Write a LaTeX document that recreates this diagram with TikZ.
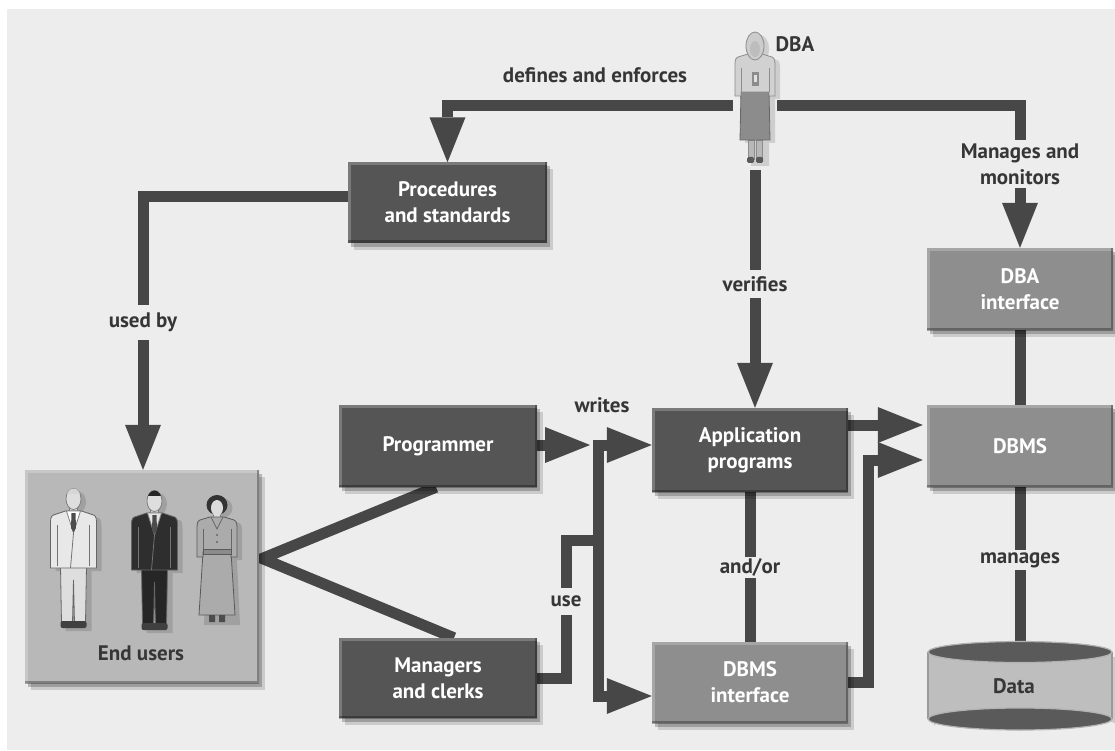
\documentclass[tikz,border=0pt]{standalone}
\usepackage{fontspec}
\setmainfont{PT Sans}
\usetikzlibrary{arrows.meta,shadows}

\definecolor{bgc}{HTML}{EDEDED}
\definecolor{linec}{HTML}{474747}
\definecolor{darkc}{HTML}{555555}
\definecolor{midc}{HTML}{8E8E8E}
\definecolor{lightc}{HTML}{B8B8B8}
\definecolor{labelc}{HTML}{363636}
\definecolor{cylbody}{HTML}{BEBEBE}
\definecolor{cylend}{HTML}{5A5A5A}

\pgfdeclarelayer{back}
\pgfdeclarelayer{wires}
\pgfsetlayers{back,wires,main}

\newcommand\lblfont{\fontsize{21}{26}\selectfont\bfseries}

% man in a suit: x, top y, jacket, trousers, hair, shirt
\newcommand\suitman[6]{%
\begin{scope}[shift={(#1,#2)}, line width=0.8pt]
  \fill[black,opacity=.13,shift={(5,3)}] (0,11) ellipse [x radius=7.5, y radius=10.5]
    (-8,23) -- (-20,27) .. controls (-23,28) and (-23,32) .. (-23,36) -- (-23,80) -- (-13,80) -- (-13,140) -- (13,140) -- (13,80) -- (23,80) -- (23,36) .. controls (23,32) and (23,28) .. (20,27) -- (8,23) -- cycle;
  \filldraw[fill=#4, draw=black!60] (-13,78) -- (13,78) -- (12,135) -- (1,135) -- (0,92) -- (-1,135) -- (-12,135) -- cycle;
  \fill[black!75,rounded corners=2pt] (-13,133) rectangle (13,140);
  \filldraw[fill=black!15, draw=black!50] (-4,16) rectangle (4,25);
  \filldraw[fill=black!13, draw=black!50] (0,11) ellipse [x radius=7.5, y radius=10.5];
  \begin{scope}
    \clip (-9,-2) rectangle (9,5);
    \fill[#5] (0,11) ellipse [x radius=7.5, y radius=10.5];
  \end{scope}
  \filldraw[fill=#3, draw=black!60] (-8,23) -- (-20,27) .. controls (-23,28) and (-23,32) .. (-23,36) -- (-23,80) -- (23,80) -- (23,36) .. controls (23,32) and (23,28) .. (20,27) -- (8,23) -- cycle;
  \draw[black!55] (-16,37) -- (-16,78) (16,37) -- (16,78);
  \filldraw[fill=#6, draw=black!50] (-7,23) -- (7,23) -- (0,45) -- cycle;
  \fill[black!70] (-2,25) -- (2,25) -- (2.5,40) -- (0,44) -- (-2.5,40) -- cycle;
  \draw[black!55] (0,45) -- (-3,80);
\end{scope}}

% woman in a long dress: x, top y, dress colour
\newcommand\dresslady[3]{%
\begin{scope}[shift={(#1,#2)}, line width=0.8pt]
  \fill[black,opacity=.13,shift={(5,3)}] (0,10) ellipse [x radius=10.5, y radius=10]
    (-7,22) -- (-17,25) .. controls (-20,26) and (-20,30) .. (-20,34) -- (-20,62) -- (-15,62) -- (-18,127) -- (18,127) -- (15,62) -- (20,62) -- (20,34) .. controls (20,30) and (20,26) .. (17,25) -- (7,22) -- cycle;
  \fill[black!80] (0,10) ellipse [x radius=10.5, y radius=10];
  \filldraw[fill=#3, draw=black!65] (-14,57) -- (14,57) -- (18,120) -- (-18,120) -- cycle;
  \fill[black!70] (-8,120) rectangle (-2,127) (2,120) rectangle (8,127);
  \filldraw[fill=black!15, draw=black!50] (-3.5,16) rectangle (3.5,24);
  \filldraw[fill=#3, draw=black!65] (-7,22) -- (-17,25) .. controls (-20,26) and (-20,30) .. (-20,34) -- (-20,62) -- (-14,62) -- (-14,57) -- (14,57) -- (14,62) -- (20,62) -- (20,34) .. controls (20,30) and (20,26) .. (17,25) -- (7,22) -- cycle;
  \filldraw[fill=black!45, draw=black!65] (-14,54) rectangle (14,59);
  \draw[black!60] (-14,34) -- (-14,54) (14,34) -- (14,54);
  \draw[black!60] (-6,22) -- (0,34) -- (6,22);
  \fill[black!60] (0,40) circle (1.2) (0,47) circle (1.2);
  \fill[black!14] (0,13) ellipse [x radius=6, y radius=8];
\end{scope}}

% administrator figure: x, top y
\newcommand\adminlady[2]{%
\begin{scope}[shift={(#1,#2)}, line width=0.8pt]
  \fill[black,opacity=.13,shift={(5,3)}] (0,14) ellipse [x radius=9, y radius=14]
    (-7,22) -- (-17,25) .. controls (-20,26) and (-20,30) .. (-20,34) -- (-20,64) -- (-15,64) -- (-15,108) -- (-9,108) -- (-9,131) -- (9,131) -- (9,108) -- (15,108) -- (15,64) -- (20,64) -- (20,34) .. controls (20,30) and (20,26) .. (17,25) -- (7,22) -- cycle;
  \filldraw[fill=black!28, draw=black!45] (-7,108) rectangle (-1,127) (1,108) rectangle (7,127);
  \fill[black!65,rounded corners=1.5pt] (-8,125) rectangle (-1,131) (1,125) rectangle (8,131);
  \filldraw[fill=black!45, draw=black!60] (-14,58) -- (14,58) -- (15,108) -- (-15,108) -- cycle;
  \filldraw[fill=black!18, draw=black!45] (-7,22) -- (-17,25) .. controls (-20,26) and (-20,30) .. (-20,34) -- (-20,64) -- (-14,64) -- (-14,60) -- (14,60) -- (14,64) -- (20,64) -- (20,34) .. controls (20,30) and (20,26) .. (17,25) -- (7,22) -- cycle;
  \draw[black!45] (-14,36) -- (-14,60) (14,36) -- (14,60);
  \filldraw[fill=black!20, draw=black!45] (0,14) ellipse [x radius=9, y radius=14];
  \fill[black!26] (0,17) ellipse [x radius=5, y radius=8];
  \fill[black!45] (-3,40) rectangle (3.5,54);
  \fill[black!12] (-1,43) rectangle (1.5,50);
\end{scope}}

\tikzset{
  >={Triangle[width=36pt,length=45pt,line width=0pt]},
  conn/.style={draw=linec, line width=11pt, line join=miter},
  bevel/.style={path picture={
    \draw[white,opacity=.22,line width=5pt] (path picture bounding box.south west) -- (path picture bounding box.north west) -- (path picture bounding box.north east);
    \draw[black,opacity=.30,line width=5pt] (path picture bounding box.north east) -- (path picture bounding box.south east) -- (path picture bounding box.south west);}},
  box/.style={rectangle, inner sep=0pt, align=center, font=\lblfont, text=white, bevel,
    drop shadow={shadow xshift=3pt, shadow yshift=-4pt, opacity=.22, fill=black},
    drop shadow={shadow xshift=6pt, shadow yshift=-7pt, opacity=.14, fill=black}},
  darkbox/.style={box, fill=darkc},
  midbox/.style={box, fill=midc},
  lightbox/.style={box, fill=lightc},
  txt/.style={font=\lblfont, text=labelc, inner sep=0pt, align=center},
  gap/.style={txt, minimum width=20pt},
}

\begin{document}
\begin{tikzpicture}[x=1pt,y=-1pt]
\useasboundingbox (0,0) rectangle (1115,751);
\begin{pgfonlayer}{back}
  \fill[white] (0,0) rectangle (1115,751);
  \fill[bgc] (7,9) rectangle (1115,750);
\end{pgfonlayer}

% boxes
\node[darkbox, minimum width=199, minimum height=80] (proc) at (447.5,202.5) {Procedures\\and standards};
\node[darkbox, minimum width=198, minimum height=82] (prog) at (438,446) {Programmer};
\node[darkbox, minimum width=198, minimum height=80] (mgr) at (438,678) {Managers\\and clerks};
\node[darkbox, minimum width=196, minimum height=84] (app) at (750,450) {Application\\programs};
\node[midbox, minimum width=196, minimum height=81] (dbmsi) at (750,682.5) {DBMS\\interface};
\node[midbox, minimum width=186, minimum height=82] (dbai) at (1020,289) {DBA\\interface};
\node[midbox, minimum width=186, minimum height=82] (dbms) at (1020,446) {DBMS};
\node[lightbox, minimum width=234, minimum height=213] (endu) at (142,576.5) {};
\node[txt] (endlbl) at (141,653) {End users};

% the people
\suitman{73.5}{488}{black!9}{black!13}{black!16}{white}
\suitman{154.5}{490}{black!82}{black!85}{black!85}{black!10}
\dresslady{217}{495}{black!33}
\node[inner sep=0pt, minimum width=44, minimum height=138] (dba) at (755,101) {};
\adminlady{755}{32}

% data store
\fill[black,opacity=.14] (934,657) -- (934,726) arc[start angle=180, end angle=0, x radius=92, y radius=-11] -- (1118,657) -- cycle;
\fill[cylbody] (928,652) rectangle (1112,719);
\draw[black!40, line width=1.2pt] (928,652) -- (928,719) (1112,652) -- (1112,719);
\filldraw[fill=cylend, draw=black!30, line width=1.2pt] (1020,652) ellipse [x radius=92, y radius=10.5];
\filldraw[fill=cylend, draw=black!30, line width=1.2pt] (1020,719) ellipse [x radius=92, y radius=11];
\node[txt, minimum width=184, minimum height=88] (data) at (1014,686) {Data};

% labels
\node[txt] (defl) at (595,75) {defines and enforces};
\node[txt] (dbal) at (795,44) {DBA};
\node[txt] (wrl) at (602,405) {writes};
\node[gap, minimum height=35] (usedby) at (143,322.5) {used by};
\node[gap, minimum height=28] (ver) at (755,284) {verifies};
\node[gap, minimum height=48] (mm) at (1020,164) {Manages and\\monitors};
\node[gap, minimum height=21] (andor) at (750,567.5) {and/or};
\node[gap, minimum height=20] (mang) at (1020,560) {manages};
\node[gap, minimum height=27] (use) at (566,601.5) {use};

\coordinate (bus) at (755,106);
\coordinate (jt) at (598,445);
\coordinate (jb) at (598,696);
\coordinate (ju) at (598,540);

% connectors
\begin{pgfonlayer}{wires}
  \draw[conn,->] (dba.west |- bus) -| (proc.north);
  \draw[conn] (dba.east |- bus) -| (mm.north);
  \draw[conn,->] (mm.south) -- (dbai.north);
  \draw[conn] (dba.south) -- (ver.north);
  \draw[conn,->] (ver.south) -- (ver.south |- app.north);
  \draw[conn] ([yshift=6pt]proc.west) -| (usedby.north);
  \draw[conn,->] (usedby.south) -- (usedby.south |- endu.north);
  \draw[conn] ([xshift=-2pt]prog.south) -- ([xshift=3pt,yshift=18pt]endu.east) -- ([xshift=16pt]mgr.north);
  \draw[conn,->] (prog.east |- jt) -- ([xshift=-8pt]jt);
  \draw[conn,->] (jb) -- (jt) -- (app.west |- jt);
  \draw[conn,->] (jt) -- (jb) -- (dbmsi.west |- jb);
  \draw[conn] (mgr.east) -| (use.south);
  \draw[conn] (use.north) |- (ju);
  \draw[conn] (app.south) -- (andor.north);
  \draw[conn] (andor.south) -- (dbmsi.north);
  \draw[conn,->] ([yshift=25pt]app.east) -- ([xshift=-4pt,yshift=25pt]app.east -| dbms.west);
  \draw[conn,->] (dbmsi.east) -- ++(20,0) |- ([xshift=-4pt,yshift=-14pt]dbms.west);
  \draw[conn] (dbai.south) -- (dbms.north);
  \draw[conn] (dbms.south) -- (mang.north);
  \draw[conn] (mang.south) -- (mang.south |- data.north);
\end{pgfonlayer}
\end{tikzpicture}
\end{document}
